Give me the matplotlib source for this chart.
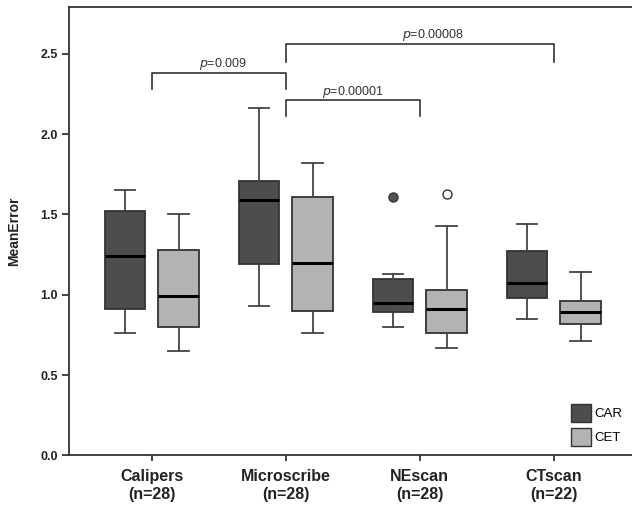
import matplotlib.pyplot as plt
from matplotlib.patches import Patch

# five-number summaries: (low whisker, Q1, median, Q3, high whisker)
groups = ["Calipers\n(n=28)", "Microscribe\n(n=28)", "NEscan\n(n=28)", "CTscan\n(n=22)"]
car_stats = [
    (0.76, 0.91, 1.24, 1.52, 1.65),
    (0.93, 1.19, 1.59, 1.71, 2.16),
    (0.80, 0.89, 0.95, 1.10, 1.13),
    (0.85, 0.98, 1.07, 1.27, 1.44),
]
cet_stats = [
    (0.65, 0.80, 0.99, 1.28, 1.50),
    (0.76, 0.90, 1.20, 1.61, 1.82),
    (0.67, 0.76, 0.91, 1.03, 1.43),
    (0.71, 0.82, 0.89, 0.96, 1.14),
]
car_fliers = [[], [], [1.61], []]
cet_fliers = [[], [], [1.63], []]

# significance brackets: (group a, group b, bar height, drop height, label)
brackets = [
    (0, 1, 2.38, 2.28, "0.009"),
    (1, 3, 2.56, 2.45, "0.00008"),
    (1, 2, 2.21, 2.11, "0.00001"),
]
label_shift = [0.03, 0.1, 0.0]   # labels aren't quite centred in the original

dark = "#4d4d4d"
light = "#b3b3b3"
edge = "#333333"

def to_bxp(stats, fliers):
    out = []
    for (lo, q1, med, q3, hi), fl in zip(stats, fliers):
        out.append(dict(whislo=lo, q1=q1, med=med, q3=q3, whishi=hi, fliers=fl))
    return out

plt.rcParams['font.family'] = ['Liberation Sans', 'DejaVu Sans']

fig = plt.figure(figsize=(6.32, 5.07), dpi=100)
ax = fig.add_axes([0.1097, 0.102, 0.8903, 0.8836])

off = 0.2
w = 0.3
for stats, fl, col, sign, mfc in [(car_stats, car_fliers, dark, -1, "#555555"),
                                  (cet_stats, cet_fliers, light, 1, "white")]:
    pos = [i + sign * off for i in range(len(groups))]
    ax.bxp(to_bxp(stats, fl), positions=pos, widths=w, patch_artist=True,
           boxprops=dict(facecolor=col, edgecolor=edge, linewidth=1.3),
           medianprops=dict(color="black", linewidth=2.2),
           whiskerprops=dict(color="#444444", linewidth=1.3),
           capprops=dict(color="#444444", linewidth=1.3),
           capwidths=w / 2,
           flierprops=dict(marker="o", markersize=6.5, markerfacecolor=mfc,
                           markeredgecolor="#333333", markeredgewidth=1.0))

for (a, b, top, drop, lab), sh in zip(brackets, label_shift):
    ax.plot([a, a, b, b], [drop, top, top, drop], color="#333333", linewidth=1.2)
    ax.text((a + b) / 2 + sh, top + 0.005, r"$\it{p}$=" + lab,
            ha="center", va="bottom", fontsize=9, color="#333333")

ax.set_xlim(-0.615, 3.584)
ax.set_ylim(0, 2.79)
ax.set_xticks(range(len(groups)))
ax.set_xticklabels(groups, fontsize=11.5, fontweight="bold", color="#222222")
ax.set_yticks([0.0, 0.5, 1.0, 1.5, 2.0, 2.5])
ax.set_yticklabels(["0.0", "0.5", "1.0", "1.5", "2.0", "2.5"], fontsize=9,
                   fontweight="bold", color="#222222")
ax.set_ylabel("MeanError", fontsize=10, fontweight="bold", color="#222222", labelpad=14)
ax.tick_params(axis="y", length=5, width=1.3, color="#333333", pad=3)
ax.tick_params(axis="x", length=4, width=1.3, color="#333333", pad=6)
for s in ["left", "bottom", "top"]:
    ax.spines[s].set_color("#333333")
    ax.spines[s].set_linewidth(1.3)
ax.spines["right"].set_visible(False)

handles = [Patch(facecolor=dark, edgecolor=edge, label="CAR"),
           Patch(facecolor=light, edgecolor=edge, label="CET")]
ax.legend(handles=handles, loc="lower right", frameon=False, fontsize=9.5,
          handlelength=1.5, handleheight=1.7, handletextpad=0.3,
          labelspacing=0.5, borderaxespad=0.3)

fig.savefig("out.png", dpi=100)
